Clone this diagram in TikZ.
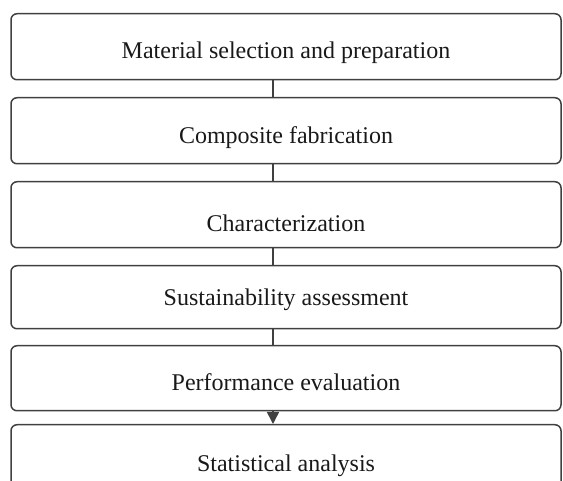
\documentclass[tikz,border=0pt]{standalone}
\usepackage{fontspec}
\setmainfont{Liberation Serif}
\usetikzlibrary{arrows.meta}
\begin{document}
\begin{tikzpicture}[x=1pt,y=-1pt,
  stepbox/.style={draw=black!75, line width=1.5pt, rounded corners=6pt,
    minimum width=550pt, inner sep=0pt, anchor=north},
  steptext/.style={font=\fontsize{24}{28}\selectfont, text=black!90, inner sep=0pt, anchor=center},
  link/.style={draw=black!75, line width=1.5pt},
  arrowlink/.style={link, -{Triangle[length=12pt,width=12pt]}}]
\useasboundingbox (0,0) rectangle (563,481);
\clip (0,0) rectangle (563,481);
\node[stepbox, minimum height=66pt] (b1) at (286,13) {};
\node[stepbox, minimum height=66pt] (b2) at (286,97) {};
\node[stepbox, minimum height=66pt] (b3) at (286,181) {};
\node[stepbox, minimum height=63pt] (b4) at (286,265) {};
\node[stepbox, minimum height=65pt] (b5) at (286,345) {};
\node[stepbox, minimum height=70pt] (b6) at (286,424) {};
\node[steptext] (t1) at (286,53) {Material selection and preparation};
\node[steptext] (t2) at (286,138) {Composite fabrication};
\node[steptext] (t3) at (286,223) {Characterization};
\node[steptext] (t4) at (286,300) {Sustainability assessment};
\node[steptext] (t5) at (286,382) {Performance evaluation};
\node[steptext] (t6) at (286,466) {Statistical analysis};
\draw[link] ([xshift=-13pt]b1.south) -- ([xshift=-13pt]b2.north);
\draw[link] ([xshift=-13pt]b2.south) -- ([xshift=-13pt]b3.north);
\draw[link] ([xshift=-13pt]b3.south) -- ([xshift=-13pt]b4.north);
\draw[link] ([xshift=-13pt]b4.south) -- ([xshift=-13pt]b5.north);
\draw[arrowlink] ([xshift=-13pt]b5.south) -- ([xshift=-13pt]b6.north);
\end{tikzpicture}
\end{document}
